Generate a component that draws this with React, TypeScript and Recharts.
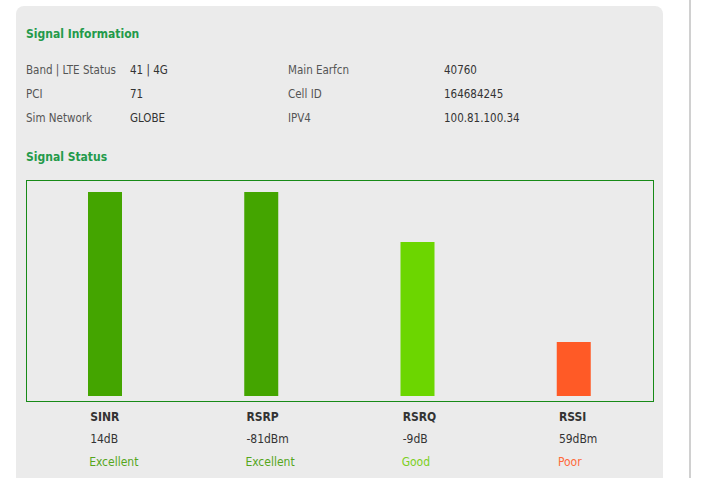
import { BarChart, Bar, Cell, XAxis, YAxis } from "recharts"

const infoLeftLabels = ["Band | LTE Status", "PCI", "Sim Network"]
const infoLeftValues = ["41 | 4G", "71", "GLOBE"]
const infoRightLabels = ["Main Earfcn", "Cell ID", "IPV4"]
const infoRightValues = ["40760", "164684245", "100.81.100.34"]

const categories = ["SINR", "RSRP", "RSRQ", "RSSI"]
const readings = ["14dB", "-81dBm", "-9dB", "59dBm"]
const levels = [100, 100, 75.5, 26.5]
const ratings = ["Excellent", "Excellent", "Good", "Poor"]
const barColors = ["#44a500", "#44a500", "#6cd600", "#ff5a26"]
const ratingColors = ["#55a61c", "#55a61c", "#7ccf22", "#ff6a3a"]

const FONT = "'Liberation Sans Narrow', 'DejaVu Sans Condensed', Roboto, sans-serif"

const data = categories.map((name, i) => ({ name, level: levels[i] }))

// three stacked lines under each bar: name, reading, rating
const SignalTick = (props: any) => {
  const { x, y, index } = props
  const left = x - 15
  return (
    <g fontFamily={FONT} fontSize={12}>
      <text x={left} y={y + 25} fill="#333" fontWeight={600}>{categories[index]}</text>
      <text x={left} y={y + 47} fill="#333">{readings[index]}</text>
      <text x={left - 1} y={y + 70} fill={ratingColors[index]}>{ratings[index]}</text>
    </g>
  )
}

const rowTops = [61, 85, 109]

export default function App() {
  const titleStyle = { position: "absolute" as const, left: 26, fontSize: 12, fontWeight: 600, color: "#239a4a", lineHeight: "18px" }
  return (
    <div style={{ position: "absolute", left: 0, top: 0, width: 705, height: 478, background: "#fff", overflow: "hidden", fontFamily: FONT }}>
      <div style={{ position: "absolute", left: 689, top: 0, width: 2, height: 478, background: "#d0d0d0" }} />
      <div style={{ position: "absolute", left: 16, top: 6, width: 647, height: 520, background: "#ebebeb", borderRadius: 8 }} />

      <div style={{ ...titleStyle, top: 25 }}>Signal Information</div>
      {rowTops.map((top, i) => (
        <div key={i} style={{ position: "absolute", left: 0, top: top + 1, width: 705, height: 16, fontSize: 11.5, lineHeight: "16px" }}>
          <span style={{ position: "absolute", left: 26, color: "#555" }}>{infoLeftLabels[i]}</span>
          <span style={{ position: "absolute", left: 130, color: "#333" }}>{infoLeftValues[i]}</span>
          <span style={{ position: "absolute", left: 288, color: "#555" }}>{infoRightLabels[i]}</span>
          <span style={{ position: "absolute", left: 444, color: "#333" }}>{infoRightValues[i]}</span>
        </div>
      ))}
      <div style={{ ...titleStyle, top: 148 }}>Signal Status</div>

      <div style={{ position: "absolute", left: 26, top: 180, width: 628, height: 222, boxSizing: "border-box", border: "1px solid #178a17" }} />
      <div style={{ position: "absolute", left: 26, top: 180 }}>
        <BarChart width={628} height={298} data={data} margin={{ top: 12, right: 2, bottom: 12, left: 1 }}>
          <XAxis
            dataKey="name"
            axisLine={false}
            tickLine={false}
            tickSize={0}
            tickMargin={0}
            height={70}
            interval={0}
            tick={<SignalTick />}
          />
          <YAxis hide domain={[0, 100]} />
          <Bar dataKey="level" barSize={34} isAnimationActive={false}>
            {data.map((d, i) => (
              <Cell key={d.name} fill={barColors[i]} />
            ))}
          </Bar>
        </BarChart>
      </div>
    </div>
  )
}
